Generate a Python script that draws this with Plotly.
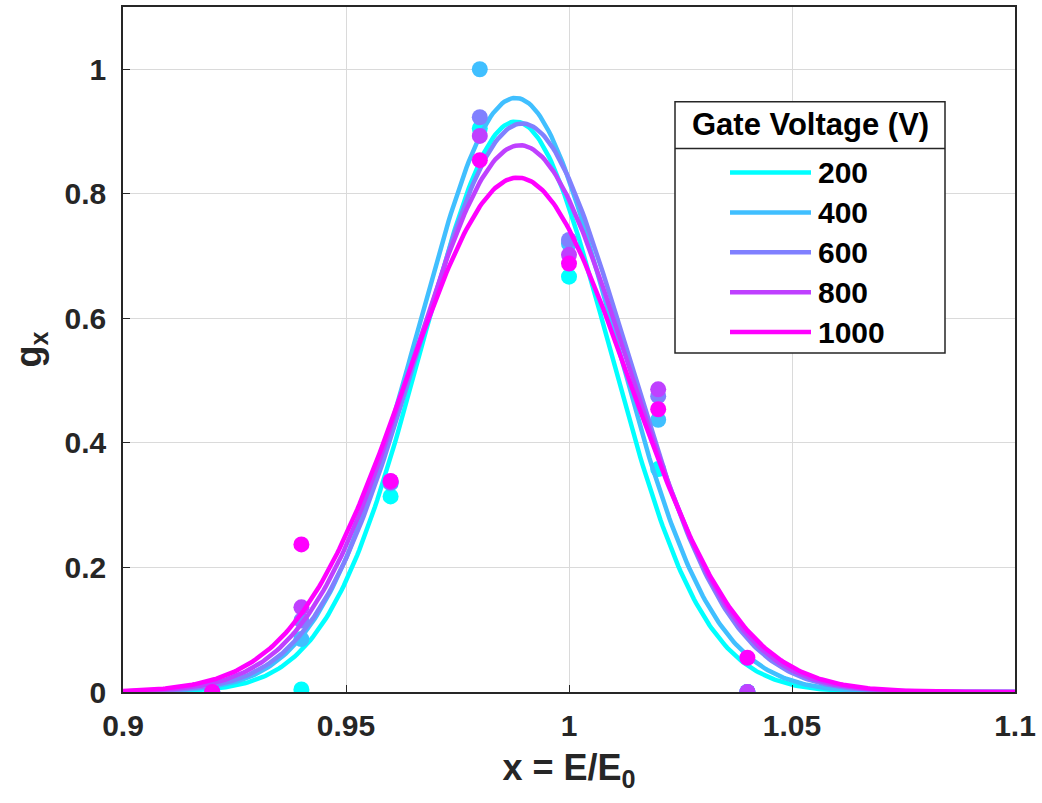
import numpy as np
import plotly.graph_objects as go

# ---- data ----
voltages = ["200", "400", "600", "800", "1000"]
colors = ["#00FFFF", "#40BFFF", "#8080FF", "#BF40FF", "#FF00FF"]

x_points = [0.92, 0.94, 0.96, 0.98, 1.00, 1.02, 1.04]
g_200 = [0.0, 0.004, 0.314, 0.905, 0.667, 0.358, 0.0]
g_400 = [0.0, 0.085, 0.335, 1.000, 0.720, 0.437, 0.0]
g_600 = [0.0, 0.115, 0.338, 0.923, 0.726, 0.475, 0.0]
g_800 = [0.0, 0.136, 0.337, 0.893, 0.702, 0.486, 0.0]
g_1000 = [0.0, 0.237, 0.339, 0.854, 0.688, 0.454, 0.055]
series = [g_200, g_400, g_600, g_800, g_1000]

# Gaussian fit parameters (amplitude, centre, sigma)
fit_amp = [0.916, 0.954, 0.913, 0.878, 0.826]
fit_mu = [0.9880, 0.9880, 0.9895, 0.9890, 0.9885]
fit_sigma = [0.0210, 0.0220, 0.0232, 0.0240, 0.0250]

legend_title = "Gate Voltage (V)"

x_fit = np.linspace(0.9, 1.1, 401)

FONT = "Liberation Sans, Arial, sans-serif"
INK = "#262626"

# plot-area geometry (pixels) used for the hand-built legend box
W, H = 1042, 803
ML, MR, MT, MB = 123, 27, 5, 111
PW, PH = W - ML - MR, H - MT - MB


def xp(px):
    return (px - ML) / PW


def yp(py):
    return (H - MB - py) / PH


fig = go.Figure()
for name, col, g, A, mu, s in zip(voltages, colors, series, fit_amp, fit_mu, fit_sigma):
    fig.add_trace(go.Scatter(
        x=x_points, y=g, mode="markers",
        marker=dict(color=col, size=16, line=dict(width=0)),
        showlegend=False, hoverinfo="skip"))
    fig.add_trace(go.Scatter(
        x=x_fit, y=A * np.exp(-(x_fit - mu) ** 2 / (2 * s ** 2)),
        mode="lines", line=dict(color=col, width=4.5), name=name, showlegend=False))

axis_common = dict(
    showline=True, linecolor=INK, linewidth=1.5, mirror=True,
    showgrid=True, gridcolor="#DADADA", gridwidth=1,
    ticks="inside", ticklen=7, tickcolor=INK, zeroline=False,
    tickfont=dict(family=FONT, size=30, color=INK, weight="bold"),
)

# ---- legend (box, title separator, line samples, labels) ----
lx0, lx1, ly0, ly1 = 675, 945, 100, 352
shapes = [
    dict(type="rect", xref="paper", yref="paper",
         x0=xp(lx0), x1=xp(lx1), y0=yp(ly1), y1=yp(ly0),
         line=dict(color=INK, width=1.5), fillcolor="white", layer="above"),
    dict(type="line", xref="paper", yref="paper",
         x0=xp(lx0), x1=xp(lx1), y0=yp(147), y1=yp(147),
         line=dict(color=INK, width=1.5), layer="above"),
]
annotations = [
    dict(text="<b>" + legend_title + "</b>", xref="paper", yref="paper",
         x=xp((lx0 + lx1) / 2), y=yp(123), xanchor="center", yanchor="middle",
         showarrow=False, font=dict(family=FONT, size=31, color="black")),
]
entry_y = [171, 211, 251, 291, 331]
for name, col, ey in zip(voltages, colors, entry_y):
    shapes.append(dict(type="line", xref="paper", yref="paper",
                       x0=xp(730), x1=xp(811), y0=yp(ey), y1=yp(ey),
                       line=dict(color=col, width=4.5), layer="above"))
    annotations.append(dict(text="<b>" + name + "</b>", xref="paper", yref="paper",
                            x=xp(816), y=yp(ey), xanchor="left", yanchor="middle",
                            showarrow=False, font=dict(family=FONT, size=30, color="black")))

fig.update_layout(
    width=W, height=H,
    margin=dict(l=ML, r=MR, t=MT, b=MB),
    paper_bgcolor="white", plot_bgcolor="white",
    font=dict(family=FONT, color=INK),
    showlegend=False,
    xaxis=dict(range=[0.9, 1.1], tickvals=[0.9, 0.95, 1.0, 1.05, 1.1],
               ticktext=["0.9", "0.95", "1", "1.05", "1.1"], ticklabelstandoff=6,
               title=dict(text="<b>x = E/E<sub>0</sub></b>",
                          font=dict(family=FONT, size=36, color=INK), standoff=14),
               **axis_common),
    yaxis=dict(range=[0, 1.1], tickvals=[0, 0.2, 0.4, 0.6, 0.8, 1.0],
               ticktext=["0", "0.2", "0.4", "0.6", "0.8", "1"], ticklabelstandoff=9,
               title=dict(text="<b>g<sub>x</sub></b>",
                          font=dict(family=FONT, size=36, color=INK), standoff=12),
               **axis_common),
    shapes=shapes,
    annotations=annotations,
)

fig.write_html("out.html")
